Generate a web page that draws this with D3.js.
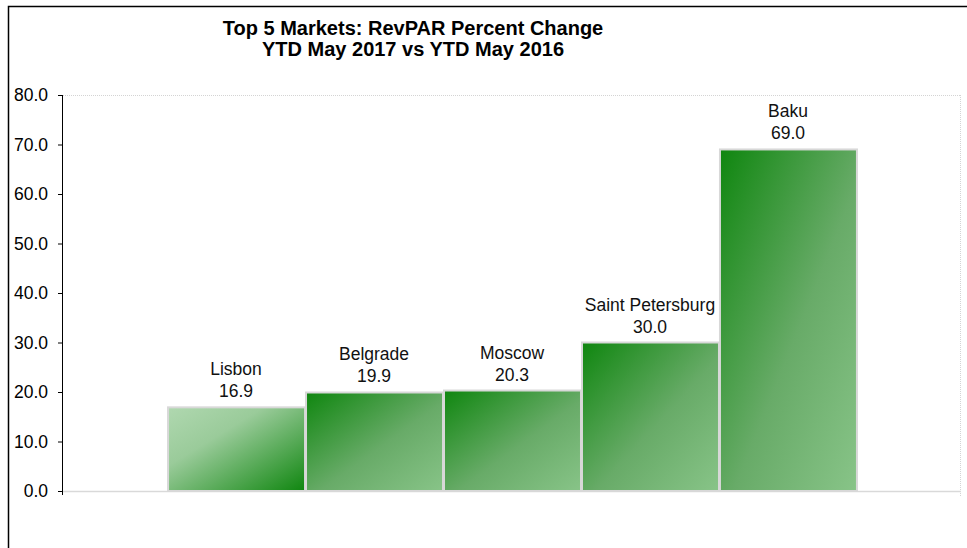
<!DOCTYPE html>
<html>
<head>
<meta charset="utf-8">
<script src="https://cdn.jsdelivr.net/npm/d3@7"></script>
<style>
  body { margin: 0; background: #fff; }
  text { font-family: "Liberation Sans", Arial, sans-serif; }
</style>
</head>
<body>
<div id="chart"></div>
<script>
// Chart data
const markets = ["Lisbon", "Belgrade", "Moscow", "Saint Petersburg", "Baku"];
const revparChange = [16.9, 19.9, 20.3, 30.0, 69.0];
const yTicks = [0, 10, 20, 30, 40, 50, 60, 70, 80];

const width = 967;
const height = 548;
const margin = { top: 95, right: 6, bottom: 57, left: 63 };

const svg = d3.select("#chart")
  .append("svg")
  .attr("width", width)
  .attr("height", height);

const innerWidth = width - margin.left - margin.right;
const innerHeight = height - margin.top - margin.bottom;

// Gradients: first bar goes light -> dark, the others dark -> light
const defs = svg.append("defs");
const gUp = defs.append("linearGradient").attr("id", "gradLight")
  .attr("x1", "0%").attr("y1", "0%").attr("x2", "100%").attr("y2", "100%");
gUp.append("stop").attr("offset", "0%").attr("stop-color", "#b0d8b0");
gUp.append("stop").attr("offset", "35%").attr("stop-color", "#9acb9a");
gUp.append("stop").attr("offset", "100%").attr("stop-color", "#0f860f");

const gDown = defs.append("linearGradient").attr("id", "gradDark")
  .attr("x1", "0%").attr("y1", "0%").attr("x2", "100%").attr("y2", "100%");
gDown.append("stop").attr("offset", "0%").attr("stop-color", "#0f860f");
gDown.append("stop").attr("offset", "55%").attr("stop-color", "#68ab68");
gDown.append("stop").attr("offset", "100%").attr("stop-color", "#88c488");

// Outer frame (top and left edges show)
svg.append("path")
  .attr("d", `M8.5,${height} L8.5,6.5 L${width},6.5`)
  .attr("fill", "none")
  .attr("stroke", "#000")
  .attr("stroke-width", 1.5);

// Title
const title = svg.append("text")
  .attr("x", 413)
  .attr("text-anchor", "middle")
  .style("font-weight", "bold")
  .style("font-size", "20px");
title.append("tspan").attr("x", 413).attr("y", 35).text("Top 5 Markets: RevPAR Percent Change");
title.append("tspan").attr("x", 413).attr("y", 56).text("YTD May 2017 vs YTD May 2016");

const xScale = d3.scaleBand()
  .domain(markets)
  .range([0, innerWidth])
  .paddingInner(0)
  .paddingOuter(0.754);

const yScale = d3.scaleLinear()
  .domain([0, 80])
  .range([innerHeight, 0]);

const chartGroup = svg.append("g")
  .attr("transform", `translate(${margin.left},${margin.top})`);

// Plot area border: dotted top and right, solid bottom
chartGroup.append("line")
  .attr("x1", 0).attr("x2", innerWidth)
  .attr("y1", 0.5).attr("y2", 0.5)
  .attr("stroke", "#d4d4d4")
  .attr("stroke-dasharray", "1,1");
chartGroup.append("line")
  .attr("x1", innerWidth - 0.5).attr("x2", innerWidth - 0.5)
  .attr("y1", 0).attr("y2", innerHeight + 5)
  .attr("stroke", "#d4d4d4")
  .attr("stroke-dasharray", "1,1");
chartGroup.append("line")
  .attr("x1", 0).attr("x2", innerWidth)
  .attr("y1", innerHeight + 0.5).attr("y2", innerHeight + 0.5)
  .attr("stroke", "#d9d9d9")
  .attr("stroke-width", 1.5);

// Bars
chartGroup.selectAll(".bar")
  .data(markets)
  .enter()
  .append("rect")
  .attr("class", "bar")
  .attr("x", d => xScale(d) + 1)
  .attr("y", (d, i) => yScale(revparChange[i]))
  .attr("width", xScale.bandwidth() - 1)
  .attr("height", (d, i) => innerHeight - yScale(revparChange[i]))
  .attr("fill", (d, i) => i === 0 ? "url(#gradLight)" : "url(#gradDark)")
  .attr("stroke", "#d8d8d8")
  .attr("stroke-width", 2);

// Labels above bars
const labels = chartGroup.selectAll(".label")
  .data(markets)
  .enter()
  .append("text")
  .attr("class", "label")
  .attr("text-anchor", "middle")
  .style("font-size", "17.5px")
  .attr("fill", "#111");
labels.append("tspan")
  .attr("x", d => xScale(d) + xScale.bandwidth() / 2)
  .attr("y", (d, i) => yScale(revparChange[i]) - 32)
  .text(d => d);
labels.append("tspan")
  .attr("x", d => xScale(d) + xScale.bandwidth() / 2)
  .attr("y", (d, i) => yScale(revparChange[i]) - 10)
  .text((d, i) => revparChange[i].toFixed(1));

// Y axis
const yAxis = d3.axisLeft(yScale)
  .tickValues(yTicks)
  .tickFormat(d3.format(".1f"))
  .tickSize(5)
  .tickPadding(10);
const yg = chartGroup.append("g").call(yAxis);
yg.select(".domain").attr("d", `M-0.5,0 L-0.5,${innerHeight + 4}`).attr("stroke", "#000");
yg.selectAll("text").style("font-size", "17.5px").attr("fill", "#000")
  .style("font-family", "'Liberation Sans', Arial, sans-serif");
</script>
</body>
</html>
